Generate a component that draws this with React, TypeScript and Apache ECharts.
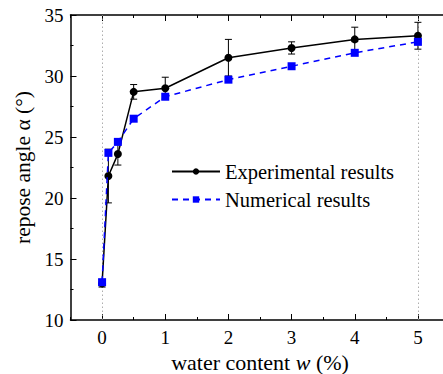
import React, { useEffect, useRef } from "react";
import * as echarts from "echarts";

const waterContent = [0, 0.1, 0.25, 0.5, 1, 2, 3, 4, 5];
const experimental = [13.0, 21.8, 23.6, 28.7, 29.0, 31.5, 32.3, 33.0, 33.3];
const experimentalErr = [0.3, 2.2, 0.9, 0.6, 0.9, 1.5, 0.5, 1.0, 1.1];
const numerical = [13.1, 23.7, 24.6, 26.5, 28.3, 29.7, 30.8, 31.9, 32.8];
const guideLines = [0, 5];
const xMajorTicks = [0, 1, 2, 3, 4, 5];

const FONT = "Liberation Serif";

export default function App() {
  const ref = useRef<HTMLDivElement>(null);
  useEffect(() => {
    if (!ref.current) return;
    const chart = echarts.init(ref.current, null, { renderer: "svg" });
    const expData = waterContent.map((x, i) => [x, experimental[i]]);
    const numData = waterContent.map((x, i) => [x, numerical[i]]);
    const errData = waterContent.map((x, i) => [x, experimental[i], experimentalErr[i]]);
    const axisBase = {
      type: "value",
      min: -0.5,
      max: 5.5,
      splitLine: { show: false },
    };
    chart.setOption({
      animation: false,
      backgroundColor: "#fff",
      grid: { left: 70.5, top: 15, right: 0.5, bottom: 54, containLabel: false, outerBoundsMode: "none" },
      legend: {
        orient: "vertical",
        left: 166,
        top: 156,
        itemWidth: 48,
        itemHeight: 8,
        itemGap: 7,
        data: ["Experimental results", "Numerical results"],
        textStyle: { fontFamily: FONT, fontSize: 20.5, color: "#000" },
      },
      xAxis: [
        {
          ...axisBase,
          position: "bottom",
          interval: 0.5,
          name: "water content {i|w} (%)",
          nameLocation: "middle",
          nameGap: 24,
          nameTextStyle: {
            fontFamily: FONT,
            fontSize: 22,
            color: "#000",
            rich: { i: { fontFamily: FONT, fontSize: 22, fontStyle: "italic", color: "#000" } },
          },
          axisLine: { onZero: false, lineStyle: { color: "#000", width: 1.5 } },
          axisTick: { inside: true, length: 3, lineStyle: { color: "#000" } },
          axisLabel: {
            margin: 8,
            fontFamily: FONT,
            fontSize: 19,
            color: "#000",
            customValues: xMajorTicks,
          },
        },
        {
          ...axisBase,
          position: "top",
          interval: 0.5,
          axisLine: { onZero: false, lineStyle: { color: "#000", width: 1.5 } },
          axisTick: { inside: true, length: 3, lineStyle: { color: "#000" } },
          axisLabel: { show: false },
        },
        {
          ...axisBase,
          position: "bottom",
          axisLine: { show: false, onZero: false },
          axisTick: { inside: true, length: 6, customValues: xMajorTicks, lineStyle: { color: "#000" } },
          axisLabel: { show: false },
        },
        {
          ...axisBase,
          position: "top",
          axisLine: { show: false, onZero: false },
          axisTick: { inside: true, length: 6, customValues: xMajorTicks, lineStyle: { color: "#000" } },
          axisLabel: { show: false },
        },
      ],
      yAxis: {
        type: "value",
        min: 10,
        max: 35,
        interval: 5,
        name: "repose angle α (°)",
        nameLocation: "middle",
        nameGap: 33,
        nameTextStyle: { fontFamily: FONT, fontSize: 21.5, color: "#000" },
        axisLine: { show: true, onZero: false, lineStyle: { color: "#000", width: 1.5 } },
        axisTick: { inside: true, length: 6, lineStyle: { color: "#000" } },
        minorTick: { show: true, splitNumber: 2, length: 3, lineStyle: { color: "#000" } },
        axisLabel: { margin: 7, fontFamily: FONT, fontSize: 19, color: "#000" },
        splitLine: { show: false },
      },
      series: [
        {
          type: "custom",
          name: "err",
          data: errData,
          z: 2,
          renderItem: (params: any, api: any) => {
            const x = api.value(0);
            const y = api.value(1);
            const e = api.value(2);
            const top = api.coord([x, y + e]);
            const bot = api.coord([x, y - e]);
            const w = 3.5;
            const style = { stroke: "#000", lineWidth: 1 };
            return {
              type: "group",
              children: [
                { type: "line", shape: { x1: top[0], y1: top[1], x2: bot[0], y2: bot[1] }, style },
                { type: "line", shape: { x1: top[0] - w, y1: top[1], x2: top[0] + w, y2: top[1] }, style },
                { type: "line", shape: { x1: bot[0] - w, y1: bot[1], x2: bot[0] + w, y2: bot[1] }, style },
              ],
            };
          },
        },
        {
          type: "line",
          name: "Experimental results",
          data: expData,
          z: 3,
          symbol: "circle",
          symbolSize: 8,
          itemStyle: { color: "#000" },
          lineStyle: { color: "#000", width: 1.5 },
          markLine: {
            silent: true,
            symbol: "none",
            label: { show: false },
            z: 1,
            lineStyle: { color: "#999", type: [1.5, 2.5], width: 0.8 },
            data: guideLines.map((v) => ({ xAxis: v })),
          },
        },
        {
          type: "line",
          name: "Numerical results",
          data: numData,
          z: 4,
          symbol: "rect",
          symbolSize: 8,
          itemStyle: { color: "#0000ff" },
          lineStyle: { color: "#0000ff", width: 1.5, type: [6, 5] },
        },
      ],
    });
    return () => chart.dispose();
  }, []);
  return (
    <div
      ref={ref}
      style={{ position: "fixed", left: 0, top: 0, width: 450, height: 374 }}
    />
  );
}
